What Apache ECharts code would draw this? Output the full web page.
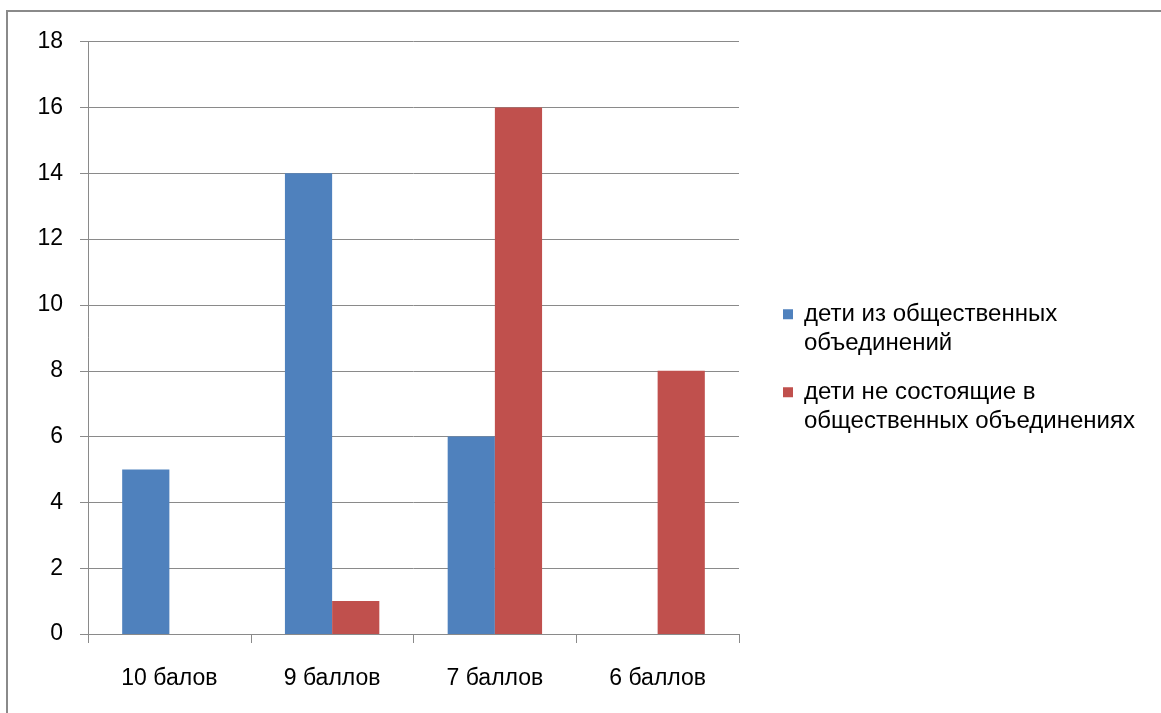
<!DOCTYPE html>
<html><head><meta charset="utf-8">
<script src="https://cdn.jsdelivr.net/npm/echarts@6/dist/echarts.min.js"></script>
<style>html,body{margin:0;padding:0;background:#fff}#c{width:1161px;height:713px}</style>
</head><body><div id="c"></div>
<script>
const categories = ['10 балов', '9 баллов', '7 баллов', '6 баллов'];
const seriesNames = ['дети из общественных\nобъединений', 'дети не состоящие в\nобщественных объединениях'];
const seriesA = [5, 14, 6, 0];
const seriesB = [0, 1, 16, 8];
const yTicks = { min: 0, max: 18, interval: 2 };

const FONT = 'Liberation Sans';
const FS = 23;
const chart = echarts.init(document.getElementById('c'));
const legendCommon = {
  orient: 'vertical', left: 783, padding: 0, itemWidth: 10, itemHeight: 10, itemGap: 0,
  icon: 'rect',
  formatter: name => '\n' + name.split('\n').map(l => '{p|' + l + '}').join('\n'),
  textStyle: {
    fontFamily: FONT, fontSize: 24, color: '#000', lineHeight: 29.5,
    rich: { p: { fontFamily: FONT, fontSize: 24, color: '#000', lineHeight: 29.5, padding: [0, 0, 0, 6] } }
  }
};
chart.setOption({
  animation: false,
  textStyle: { fontFamily: FONT },
  graphic: [{ type: 'rect', shape: { x: 7, y: 11, width: 1300, height: 900 }, style: { fill: 'none', stroke: '#8a8a8a', lineWidth: 2 }, silent: true }],
  grid: { left: 88, top: 41.7, right: 422, bottom: 79, containLabel: false },
  legend: [
    Object.assign({ top: 270, data: [seriesNames[0]] }, legendCommon),
    Object.assign({ top: 348, data: [seriesNames[1]] }, legendCommon)
  ],
  xAxis: {
    type: 'category', data: categories,
    axisLine: { lineStyle: { color: '#8a8a8a', width: 1 } },
    axisTick: { show: true, length: 9, lineStyle: { color: '#8a8a8a' } },
    axisLabel: { fontFamily: FONT, fontSize: FS, color: '#000', margin: 33 }
  },
  yAxis: {
    type: 'value', min: yTicks.min, max: yTicks.max, interval: yTicks.interval,
    axisLine: { show: true, lineStyle: { color: '#8a8a8a', width: 1 } },
    axisTick: { show: true, length: 8, lineStyle: { color: '#8a8a8a' } },
    axisLabel: { fontFamily: FONT, fontSize: FS, color: '#000', margin: 25 },
    splitLine: { show: true, lineStyle: { color: '#8a8a8a', width: 1 } }
  },
  series: [
    { name: seriesNames[0], type: 'bar', data: seriesA, barGap: '0%', barCategoryGap: '42%', itemStyle: { color: '#4F81BD' } },
    { name: seriesNames[1], type: 'bar', data: seriesB, barGap: '0%', barCategoryGap: '42%', itemStyle: { color: '#C0504D' } }
  ]
});
</script></body></html>
